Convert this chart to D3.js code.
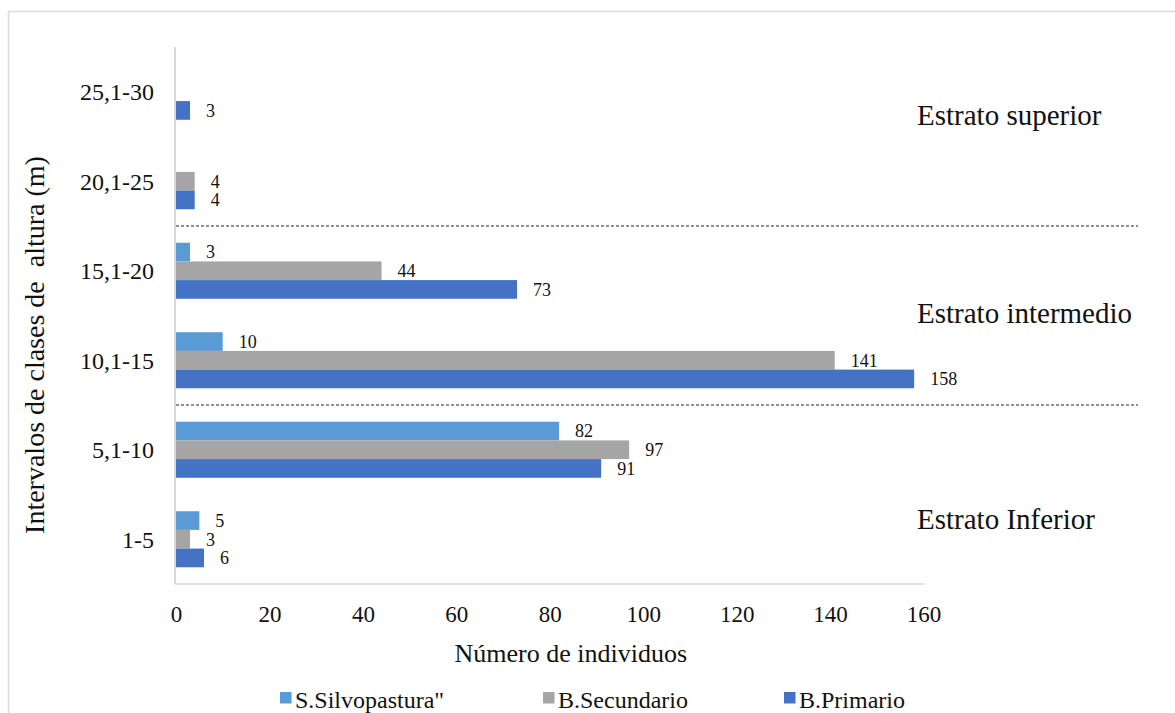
<!DOCTYPE html>
<html>
<head>
<meta charset="utf-8">
<script src="https://cdn.jsdelivr.net/npm/d3@7"></script>
<style>
  html, body { margin: 0; padding: 0; background: #fff; }
  svg { display: block; }
  svg text { font-family: "Liberation Serif", "Times New Roman", Tinos, Times, "DejaVu Serif", serif !important; fill: #111; }
</style>
</head>
<body>
<svg id="chart" width="1175" height="713"></svg>
<script>
// Height classes, listed top to bottom as drawn
const categories = ["25,1-30", "20,1-25", "15,1-20", "10,1-15", "5,1-10", "1-5"];
const seriesNames = ["S.Silvopastura\"", "B.Secundario", "B.Primario"];
const silvopastura = [null, null, 3, 10, 82, 5];
const secundario   = [null, 4, 44, 141, 97, 3];
const primario     = [3, 4, 73, 158, 91, 6];
const seriesColors = ["#5B9BD5", "#A5A5A5", "#4472C4"];
const xTicks = [0, 20, 40, 60, 80, 100, 120, 140, 160];
// Strata labels with the baseline of each label
const strata = [
  { label: "Estrato superior", y: 125 },
  { label: "Estrato intermedio", y: 323 },
  { label: "Estrato Inferior", y: 529 }
];
const strataBreaks = ["15,1-20", "5,1-10"]; // dashed line drawn above these classes

const seriesValues = [silvopastura, secundario, primario];

const svg = d3.select("#chart");
const plot = { left: 176, right: 923.5, top: 47, bottom: 584 };

// outer frame
svg.append("rect")
  .attr("x", 8.5).attr("y", 11.5)
  .attr("width", 1180).attr("height", 720)
  .attr("fill", "none").attr("stroke", "#d9d9d9").attr("stroke-width", 1.5);

const x = d3.scaleLinear().domain([0, 160]).range([plot.left, plot.right]);
const y = d3.scaleBand().domain(categories).range([plot.top, plot.bottom])
  .paddingInner(0.374).paddingOuter(0.187);
const step = y.step();
const ySub = d3.scaleBand().domain(seriesNames).range([0, y.bandwidth()]);

// axis lines
svg.append("line")
  .attr("x1", plot.left - 1).attr("x2", plot.left - 1)
  .attr("y1", plot.top).attr("y2", plot.bottom)
  .attr("stroke", "#d9d9d9").attr("stroke-width", 2);
svg.append("line")
  .attr("x1", plot.left - 1).attr("x2", plot.right + 1)
  .attr("y1", plot.bottom).attr("y2", plot.bottom)
  .attr("stroke", "#d9d9d9").attr("stroke-width", 1.5);

// x tick labels
const xAxis = d3.axisBottom(x).tickValues(xTicks).tickSize(0).tickPadding(0);
const gx = svg.append("g").attr("transform", `translate(0,${plot.bottom})`).call(xAxis)
  .attr("font-family", null).attr("font-size", null);
gx.select(".domain").remove();
gx.selectAll("text")
  .attr("y", 38).attr("dy", null)
  .style("font-size", "23px").attr("fill", "#111");

// category labels
const yAxis = d3.axisLeft(y).tickSize(0).tickPadding(0);
const gy = svg.append("g").attr("transform", `translate(${plot.left - 22},0)`).call(yAxis)
  .attr("font-family", null).attr("font-size", null);
gy.select(".domain").remove();
gy.selectAll("text")
  .attr("dy", "0.35em")
  .style("font-size", "24px").attr("fill", "#111");

// bars and value labels
const barData = [];
categories.forEach((c, i) => {
  seriesNames.forEach((s, j) => {
    const v = seriesValues[j][i];
    if (v !== null) barData.push({ cat: c, series: s, value: v, color: seriesColors[j] });
  });
});

svg.append("g").selectAll("rect").data(barData).join("rect")
  .attr("x", x(0))
  .attr("y", d => y(d.cat) + ySub(d.series))
  .attr("width", d => x(d.value) - x(0))
  .attr("height", ySub.bandwidth())
  .attr("fill", d => d.color);

svg.append("g").selectAll("text").data(barData).join("text")
  .attr("x", d => x(d.value) + 16)
  .attr("y", d => y(d.cat) + ySub(d.series) + ySub.bandwidth() / 2)
  .attr("dy", "0.35em")
  .style("font-size", "18px")
  .text(d => d.value);

// dashed separators between strata
svg.append("g").selectAll("line").data(strataBreaks).join("line")
  .attr("x1", plot.left).attr("x2", 1138)
  .attr("y1", d => y(d) - step * y.paddingInner() / 2)
  .attr("y2", d => y(d) - step * y.paddingInner() / 2)
  .attr("stroke", "#222").attr("stroke-width", 1.2)
  .attr("stroke-dasharray", "3,2");

// strata annotations
svg.append("g").selectAll("text").data(strata).join("text")
  .attr("x", 917)
  .attr("y", d => d.y)
  .style("font-size", "29px")
  .text(d => d.label);

// axis titles
svg.append("text")
  .attr("x", (plot.left + plot.right) / 2 + 21)
  .attr("y", 662)
  .attr("text-anchor", "middle")
  .style("font-size", "26px")
  .text("Número de individuos");

svg.append("text")
  .attr("transform", "translate(44,345) rotate(-90)")
  .attr("text-anchor", "middle")
  .style("font-size", "28px")
  .style("white-space", "pre")
  .text("Intervalos de clases de  altura (m)");

// legend
const legendX = [280, 543, 784];
const lg = svg.append("g").selectAll("g").data(seriesNames).join("g")
  .attr("transform", (d, i) => `translate(${legendX[i]},692)`);
lg.append("rect").attr("width", 11.5).attr("height", 11.5)
  .attr("fill", (d, i) => seriesColors[i]);
lg.append("text").attr("x", 15).attr("y", 16)
  .style("font-size", "24px")
  .text(d => d);
</script>
</body>
</html>
